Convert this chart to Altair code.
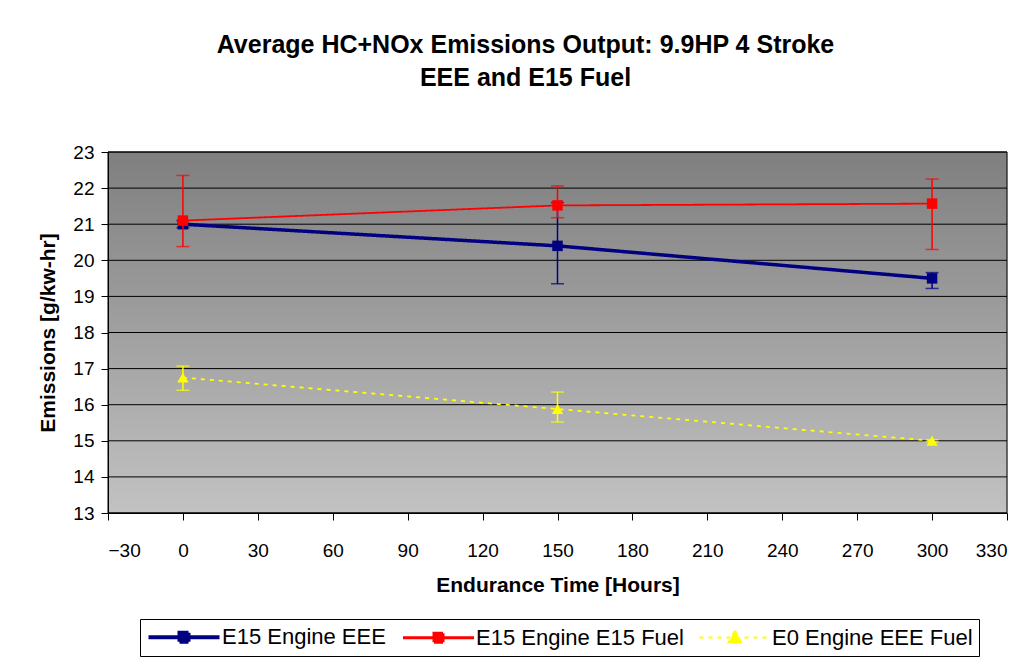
import altair as alt
import pandas as pd

# ---- data ----
hours = [0, 150, 300]
series = ["E15 Engine EEE", "E15 Engine E15 Fuel", "E0 Engine EEE Fuel"]

e15_eee = [21.0, 20.4, 19.5]
e15_eee_lo = [20.9, 19.35, 19.22]
e15_eee_hi = [21.1, 21.6, 19.66]

e15_e15 = [21.1, 21.52, 21.57]
e15_e15_lo = [20.38, 21.18, 20.3]
e15_e15_hi = [22.35, 22.06, 22.25]

e0_eee = [16.75, 15.88, 15.0]
e0_eee_lo = [16.4, 15.52, 14.97]
e0_eee_hi = [17.07, 16.35, 15.03]

x_ticks = [-30, 0, 30, 60, 90, 120, 150, 180, 210, 240, 270, 300, 330]
y_ticks = [13, 14, 15, 16, 17, 18, 19, 20, 21, 22, 23]

# ---- styles ----
colors = ["#000080", "#FF0000", "#FFFF00"]
line_widths = [3.5, 1.8, 1.8]
dashes = [[1, 0], [1, 0], [4, 5]]
shapes = ["square", "square", "triangle-up"]
# legend symbols: size 400 -> unit = 10px; line spans 71px
legend_paths = [
    "M-3.55,0H3.55M-0.45,-0.45H0.45V0.45H-0.45Z",
    "M-3.55,0H3.55M-0.45,-0.45H0.45V0.45H-0.45Z",
    "M-3.55,0H3.55M0,-0.7L0.65,0.55H-0.65Z",
]
FONT = "Liberation Sans, Arial, sans-serif"
W, H = 899, 361

vals = [e15_eee, e15_e15, e0_eee]
los = [e15_eee_lo, e15_e15_lo, e0_eee_lo]
his = [e15_eee_hi, e15_e15_hi, e0_eee_hi]

rows = []
for s, v, lo, hi in zip(series, vals, los, his):
    for h, a, b, c in zip(hours, v, lo, hi):
        rows.append({"series": s, "hours": h, "value": a, "lo": b, "hi": c})
df = pd.DataFrame(rows)

xscale = alt.Scale(domain=[x_ticks[0], x_ticks[-1]], nice=False, zero=False)
yscale = alt.Scale(domain=[y_ticks[0], y_ticks[-1]], nice=False, zero=False)

xaxis = alt.Axis(values=x_ticks, grid=False, tickSize=7, tickColor="black",
                 domainColor="black", labelColor="black", labelFontSize=19,
                 labelFont=FONT, labelPadding=21, labelOverlap=False,
                 title="Endurance Time [Hours]",
                 titleFont=FONT, titleFontSize=21, titleFontWeight="bold",
                 titleColor="black", titlePadding=14, zindex=1)
yaxis = alt.Axis(values=y_ticks, grid=False, tickSize=7, tickColor="black",
                 domainColor="black", labelColor="black", labelFontSize=19,
                 labelFont=FONT, labelPadding=7, labelOverlap=False,
                 title="Emissions [g/kw-hr]",
                 titleFont=FONT, titleFontSize=21, titleFontWeight="bold",
                 titleColor="black", titlePadding=14, zindex=1)

gradient = alt.LinearGradient(
    gradient="linear",
    stops=[alt.GradientStop(color="#7f7f7f", offset=0),
           alt.GradientStop(color="#c2c2c2", offset=1)],
    x1=0, x2=0, y1=0, y2=1,
)

bg = alt.Chart(pd.DataFrame({"k": [0]})).mark_rect(
    fill=gradient, stroke="black", strokeWidth=1
).encode(x=alt.value(0), x2=alt.value(W), y=alt.value(0), y2=alt.value(H))

grid = alt.Chart(pd.DataFrame({"y": y_ticks})).mark_rule(
    color="black", strokeWidth=1
).encode(y=alt.Y("y:Q", scale=yscale, axis=yaxis))

base_x = alt.X("hours:Q", scale=xscale, axis=xaxis)

layers = [bg, grid]
for i, s in enumerate(series):
    d = df[df["series"] == s]
    c = alt.Chart(d)
    err = c.mark_rule(color=colors[i], strokeWidth=1.5).encode(
        x=base_x, y=alt.Y("lo:Q", scale=yscale, axis=yaxis), y2="hi:Q")
    cap_lo = c.mark_tick(color=colors[i], orient="horizontal", size=13,
                         thickness=1.5).encode(x=base_x, y=alt.Y("lo:Q", scale=yscale, axis=yaxis))
    cap_hi = c.mark_tick(color=colors[i], orient="horizontal", size=13,
                         thickness=1.5).encode(x=base_x, y=alt.Y("hi:Q", scale=yscale, axis=yaxis))
    line = c.mark_line(color=colors[i], strokeWidth=line_widths[i],
                       strokeDash=dashes[i]).encode(
        x=base_x, y=alt.Y("value:Q", scale=yscale, axis=yaxis))
    pts = c.mark_point(shape=shapes[i], filled=True, color=colors[i], opacity=1,
                       size=110 if i < 2 else 130).encode(
        x=base_x, y=alt.Y("value:Q", scale=yscale, axis=yaxis))
    layers += [err, cap_lo, cap_hi, line, pts]

# legend-only layer (clipped off the plot)
leg = alt.Legend(orient="none", legendX=32, legendY=467, direction="horizontal",
                 labelFont=FONT, labelFontSize=22, labelColor="black",
                 symbolSize=400, symbolOffset=26, labelOffset=26,
                 columnPadding=11, padding=6,
                 strokeColor="black", fillColor="white", symbolOpacity=1,
                 cornerRadius=0, labelLimit=400)
legend_layer = alt.Chart(pd.DataFrame({"series": series})).mark_point(
    filled=False, size=400, opacity=1, clip=True
).encode(
    x=alt.value(-2000), y=alt.value(-2000),
    stroke=alt.Stroke("series:N", scale=alt.Scale(domain=series, range=colors),
                      legend=leg, title=None),
    fill=alt.Fill("series:N", scale=alt.Scale(domain=series, range=colors),
                  legend=leg, title=None),
    shape=alt.Shape("series:N", scale=alt.Scale(domain=series, range=legend_paths),
                    legend=leg, title=None),
    strokeDash=alt.StrokeDash("series:N", scale=alt.Scale(domain=series, range=dashes),
                              legend=leg, title=None),
    strokeWidth=alt.StrokeWidth("series:N", scale=alt.Scale(domain=series, range=[4, 2, 2]),
                                legend=leg, title=None),
)
layers.append(legend_layer)

chart = alt.layer(*layers).properties(
    width=W, height=H,
    autosize=alt.AutoSizeParams(type="none"),
    padding={"left": 100, "top": 144, "right": 16, "bottom": 145},
    title=alt.TitleParams(
        ["Average HC+NOx Emissions Output: 9.9HP 4 Stroke", "EEE and E15 Fuel"],
        font=FONT, fontSize=25, fontWeight="bold", color="black",
        anchor="middle", dx=-32, offset=52, lineHeight=33,
    ),
).configure_view(stroke=None).configure(background="white")

chart.save("out.html", embed_options={"renderer": "svg", "actions": False})
